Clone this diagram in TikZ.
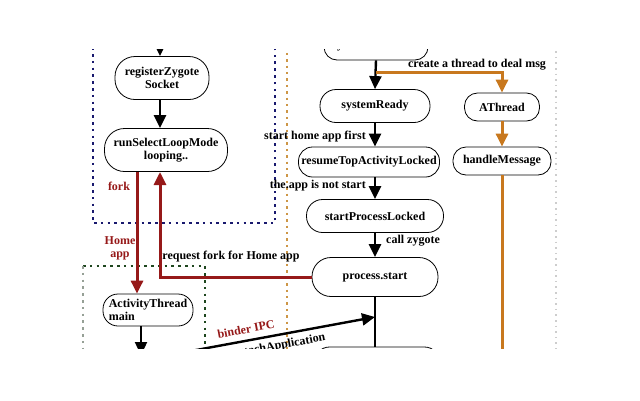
\documentclass[tikz,border=0pt]{standalone}
\usepackage{fontspec}
\setmainfont{Liberation Serif}
\usetikzlibrary{arrows.meta}

\definecolor{forkred}{RGB}{150,25,25}
\definecolor{threadorange}{RGB}{200,120,30}
\definecolor{zygblue}{RGB}{25,25,110}
\definecolor{appgreen}{RGB}{30,70,30}
\definecolor{appgray}{RGB}{150,160,150}
\definecolor{sepgold}{RGB}{205,150,70}
\definecolor{sepgray}{RGB}{205,205,205}

\begin{document}
\begin{tikzpicture}[x=1pt,y=-1pt]

    \tikzset{procstyle/.style={draw,rounded corners=#1,line width=0.8pt,inner sep=0pt,align=center,
             font=\fontsize{12}{13}\selectfont\bfseries},procstyle/.default=15pt}
    \tikzset{labelstyle/.style={inner sep=0pt,font=\fontsize{12}{13}\selectfont\bfseries}}
    \tikzset{flowarrow/.style={line width=2.4pt,-{Triangle[length=13pt,width=12pt]}}}
    \tikzset{boxdots/.style={line width=2.6pt,dash pattern=on 2.6pt off 4.2pt}}

    \useasboundingbox[fill=white] (0,0) rectangle (640,400);

    \begin{scope}
    \clip (80,49) rectangle (560,348);

    % separators and boxes
    \draw[boxdots,zygblue] (93,20) rectangle (275,223);
    \draw[boxdots,appgreen] (83,266) -- (205,266) -- (205,360);
    \draw[boxdots,appgray,line width=2pt] (83,266) -- (83,360);
    \draw[sepgold,line width=2.4pt,dash pattern=on 2.4pt off 4pt] (287,40) -- (287,360);
    \draw[sepgray,line width=1.6pt,dash pattern=on 1.6pt off 4pt] (556,40) -- (556,360);

    \node[procstyle=20pt,minimum width=94pt,minimum height=43pt] (regZyg) at (162,78) {registerZygote\\Socket};
    \node[procstyle=20pt,minimum width=123pt,minimum height=43pt] (runSel) at (166,150) {runSelectLoopMode\\looping..};
    \node[procstyle,align=left,minimum width=90pt,minimum height=32pt] (actMain) at (148,310) {ActivityThread\\main\hspace*{50pt}};

    \node[procstyle=13pt,minimum width=104pt,minimum height=28pt] (sysTop) at (376,46) {SystemServer.run};
    \node[procstyle=16pt,minimum width=110pt,minimum height=33pt] (sysReady) at (375,106) {systemReady};
    \node[procstyle=13pt,minimum width=75pt,minimum height=28pt] (aThread) at (502,107) {AThread};
    \node[procstyle=13pt,minimum width=98pt,minimum height=28pt] (handleMsg) at (502,161) {handleMessage};
    \node[procstyle=14pt,minimum width=141pt,minimum height=30pt] (resumeTop) at (369,162) {resumeTopActivityLocked};
    \node[procstyle=16pt,minimum width=137pt,minimum height=33pt] (startProc) at (375,216) {startProcessLocked};
    \node[procstyle=19pt,minimum width=126pt,minimum height=39pt] (procStart) at (375,277) {process.start};
    \node[procstyle=15pt,minimum width=125pt,minimum height=38pt] (nextStep) at (377,366) {};

    \coordinate (zygIn) at (160,30);
    \coordinate (forkTop) at (137,172);
    \coordinate (retUp) at (160,172);
    \coordinate (branch) at (376,72);
    \coordinate (msgEnd) at (502,360);
    \coordinate (actDown) at (141,355);
    \coordinate (ipcStart) at (180,353);
    \coordinate (ipcEnd) at (375,317);

    % zygote side
    \draw[flowarrow] (zygIn) -- (zygIn |- regZyg.north);
    \draw[flowarrow] (zygIn |- regZyg.south) -- (zygIn |- runSel.north);
    \draw[flowarrow,forkred,line width=3pt] (forkTop) -- (forkTop |- actMain.north);
    \draw[flowarrow,forkred,line width=3pt] (procStart.west) -| (retUp);
    \draw[flowarrow] (actDown |- actMain.south) -- (actDown);

    % system server side
    \draw[flowarrow] (sysTop.south) -- (sysReady.north);
    \draw[flowarrow] (sysReady.south) -- (sysReady.south |- resumeTop.north);
    \draw[flowarrow] (sysReady.south |- resumeTop.south) -- (startProc.north);
    \draw[flowarrow] (startProc.south) -- (procStart.north);
    \draw[line width=2.4pt] (procStart.south) -- (procStart.south |- nextStep.north);
    \draw[flowarrow,threadorange,line width=3pt] (branch) -| (aThread.north);
    \draw[flowarrow,threadorange,line width=3pt] (aThread.south) -- (handleMsg.north);
    \draw[threadorange,line width=3pt] (handleMsg.south) -- (msgEnd);
    \draw[flowarrow] (ipcStart) -- (ipcEnd);

    % labels
    \node[labelstyle,forkred] (forkLbl) at (119,186) {fork};
    \node[labelstyle,forkred,align=center] (homeLbl) at (120,248) {Home\\app};
    \node[labelstyle] (reqLbl) at (231,257) {request fork for Home app};
    \node[labelstyle,forkred,rotate=10.5] (ipcLbl) at (246,329) {binder IPC};
    \node[labelstyle,rotate=10.5] (attachLbl) at (280,346) {attachApplication};
    \node[labelstyle] (threadLbl) at (477,65) {create a thread to deal msg};
    \node[labelstyle,anchor=east] (homeFirst) at (366,137) {start home app first};
    \node[labelstyle,anchor=east] (notStart) at (366,186) {the.app is not start};
    \node[labelstyle,anchor=west] (callZyg) at (386,241) {call zygote};
    \end{scope}

\end{tikzpicture}
\end{document}
